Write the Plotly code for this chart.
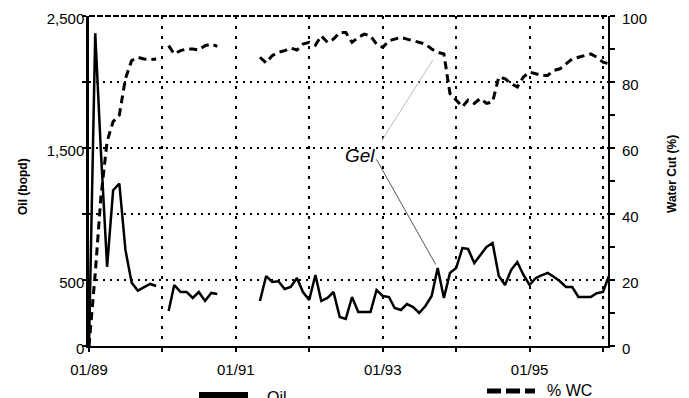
import pandas as pd
import plotly.graph_objects as go

# ---------------- data (monthly, Jan 1989 .. Feb 1996) ----------------
months = pd.date_range("1989-01-01", periods=86, freq="MS")

oil_bopd = [
    0, 2370, 1480, 600, 1180, 1230, 730, 480, 420, 445, 470, 455,          # 1989
    None, 265, 462, 410, 410, 364, 409, 341, 402, 394, None, None,         # 1990
    None, None, None, None, 341, 530, 485, 490, 432, 447, 515, 409,        # 1991
    348, 538, 341, 364, 409, 220, 205, 371, 258, 258, 258, 424,            # 1992
    379, 371, 288, 273, 318, 295, 250, 303, 379, 591, 364, 553,            # 1993
    591, 742, 735, 629, 689, 750, 780, 530, 462, 575, 636, 540,            # 1994
    462, 515, 535, 553, 525, 490, 447, 447, 371, 371, 371, 400,            # 1995
    410, 537,                                                              # 1996
]

water_cut = [
    0, 22, 45, 62, 68, 70, 81, 86.5, 87.5, 87, 86.8, 87,                   # 1989
    None, 91, 88.5, 89.5, 90, 90, 89.7, 91, 91.5, 90.8, None, None,        # 1990
    None, None, None, None, 87.5, 85.8, 88, 89, 89.5, 90.3, 89.7, 91.5,    # 1991
    92, 91.2, 94, 92, 93, 95, 95, 92, 93.5, 94.5, 94, 91.5,                # 1992
    90.5, 92.5, 93, 93.5, 93, 92.5, 92, 91.5, 90, 89, 88.5, 76.5,          # 1993
    74.5, 72.5, 74.5, 73.5, 75, 73.5, 74, 81.5, 81, 79.5, 78.5, 81.5,      # 1994
    83, 82.5, 82, 82, 83.5, 84, 85.5, 87, 87.5, 88, 88.5, 87.5,            # 1995
    86, 85.5,                                                              # 1996
]

year_ticks = pd.date_range("1989-01-01", "1996-01-01", freq="YS")
x_tick_text = ["01/89", "", "01/91", "", "01/93", "", "01/95", ""]
oil_ticks = [0, 500, 1000, 1500, 2000, 2500]
oil_tick_text = ["0", "500", "", "1,500", "", "2,500"]
wc_ticks = [0, 10, 20, 30, 40, 50, 60, 70, 80, 90, 100]
wc_tick_text = ["0", "", "20", "", "40", "", "60", "", "80", "", "100"]
gel_index = 57  # month of the gel treatment response

FONT = "Liberation Sans, Arial, sans-serif"

fig = go.Figure()
fig.add_trace(go.Scatter(
    x=months, y=oil_bopd, name="Oil", mode="lines",
    line=dict(color="black", width=2.5), connectgaps=False, yaxis="y"))
fig.add_trace(go.Scatter(
    x=months, y=water_cut, name="% WC", mode="lines",
    line=dict(color="black", width=3, dash="8px,5px"), connectgaps=False,
    yaxis="y2"))

# page body has an 8px margin: compensate so the plot lands where it should
OFF = 8
WIN_W, WIN_H = 689, 398
PL, PR, PT, PB = 89, 608, 16, 346      # plot-area edges in window pixels
W, H = WIN_W - OFF, WIN_H - OFF
L, T = PL - OFF, PT - OFF
R, B = W - (PR - OFF), H - (PB - OFF)


def px(xw):
    return (xw - PL) / (PR - PL)


def py(yw):
    return (PB - yw) / (PB - PT)


fig.update_layout(
    width=W, height=H, autosize=False,
    margin=dict(l=L, r=R, t=T, b=B, pad=0, autoexpand=False),
    paper_bgcolor="white", plot_bgcolor="white",
    showlegend=False,
    font=dict(family=FONT, color="black", size=15),
    xaxis=dict(
        range=["1989-01-01", "1996-01-26"], automargin=False,
        tickmode="array", tickvals=year_ticks, ticktext=x_tick_text,
        showgrid=True, gridcolor="black", gridwidth=2, griddash="3px,7px",
        showline=True, linecolor="black", linewidth=2,
        ticks="outside", ticklen=4, tickwidth=2, tickcolor="black",
        tickfont=dict(size=15), ticklabelstandoff=5, zeroline=False,
        ticklabeloverflow="allow",
    ),
    yaxis=dict(
        range=[0, 2500], automargin=False,
        tickmode="array", tickvals=oil_ticks, ticktext=oil_tick_text,
        showgrid=True, gridcolor="black", gridwidth=2, griddash="2px,5px",
        showline=True, linecolor="black", linewidth=2.5,
        ticks="outside", ticklen=4, tickwidth=2, tickcolor="black",
        tickfont=dict(size=15), ticklabelstandoff=-5, ticklabelshift=3,
        zeroline=False, ticklabeloverflow="allow",
    ),
    yaxis2=dict(
        range=[0, 100], overlaying="y", side="right", automargin=False,
        tickmode="array", tickvals=wc_ticks, ticktext=wc_tick_text,
        showgrid=False, showline=True, linecolor="black", linewidth=2,
        ticks="outside", ticklen=5, tickwidth=2, tickcolor="black",
        tickfont=dict(size=15), ticklabelstandoff=4, ticklabelshift=3,
        zeroline=False, ticklabeloverflow="allow",
    ),
)

shapes = [
    # dashed top border
    dict(type="line", xref="paper", yref="paper", x0=0, x1=1, y0=1, y1=1,
         line=dict(color="black", width=2, dash="6px,2px")),
    # legend samples
    dict(type="line", xref="paper", yref="paper", x0=px(199), x1=px(248),
         y0=py(395), y1=py(395), line=dict(color="black", width=6)),
    dict(type="line", xref="paper", yref="paper", x0=px(487), x1=px(535),
         y0=py(391), y1=py(391), line=dict(color="black", width=5, dash="14px,5px")),
]
fig.update_layout(shapes=shapes)

annotations = [
    dict(text="<b>Oil (bopd)</b>", xref="paper", yref="paper", x=px(23), y=py(187),
         textangle=-90, showarrow=False, font=dict(size=12), xanchor="center", yanchor="middle"),
    dict(text="<b>Water Cut (%)</b>", xref="paper", yref="paper", x=px(672), y=py(174),
         textangle=-90, showarrow=False, font=dict(size=12), xanchor="center", yanchor="middle"),
    dict(text="<i>Gel</i>", xref="paper", yref="paper", x=px(360), y=py(155),
         showarrow=False, font=dict(size=19), xanchor="center", yanchor="middle"),
    dict(text="", x=months[gel_index], y=water_cut[gel_index], xref="x", yref="y2",
         showarrow=True, arrowhead=0, arrowwidth=1, arrowcolor="#bdbdbd",
         ax=-57, ay=90, standoff=9),
    dict(text="", x=months[gel_index], y=oil_bopd[gel_index], xref="x", yref="y",
         showarrow=True, arrowhead=0, arrowwidth=1, arrowcolor="#555555",
         ax=-62, ay=-110, standoff=4),
    dict(text="Oil", xref="paper", yref="paper", x=px(265), y=py(397),
         showarrow=False, font=dict(size=16), xanchor="left", yanchor="middle"),
    dict(text="% WC", xref="paper", yref="paper", x=px(545), y=py(390),
         showarrow=False, font=dict(size=16), xanchor="left", yanchor="middle"),
]
fig.update_layout(annotations=annotations)

fig.write_html("out.html")
